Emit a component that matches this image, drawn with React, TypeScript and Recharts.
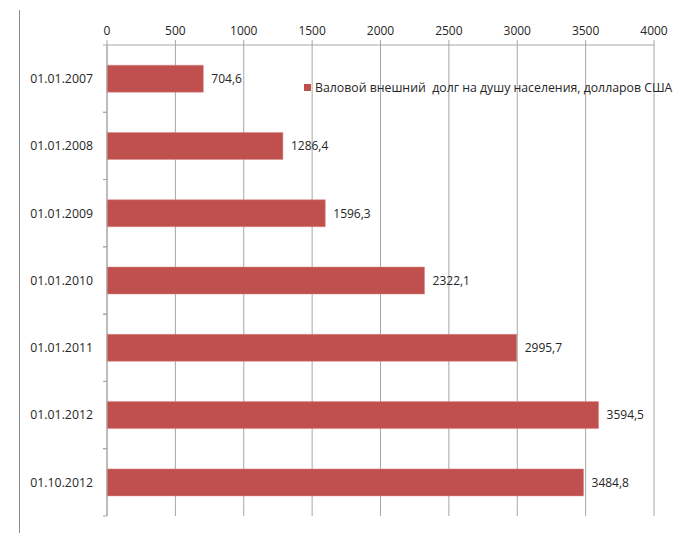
import React from "react";
import { BarChart, Bar, XAxis, YAxis, CartesianGrid, LabelList } from "recharts";

const categories = ["01.01.2007", "01.01.2008", "01.01.2009", "01.01.2010", "01.01.2011", "01.01.2012", "01.10.2012"];
const debtValues = [704.6, 1286.4, 1596.3, 2322.1, 2995.7, 3594.5, 3484.8];
const xTicks = [0, 500, 1000, 1500, 2000, 2500, 3000, 3500, 4000];
const seriesName = "Валовой внешний  долг на душу населения, долларов США";

const data = categories.map((c, i) => ({ date: c, value: debtValues[i] }));

const FONT = "'Open Sans', 'Noto Sans', sans-serif";
const BAR = "#C0504D";
const GRID = "#A6A6A6";
const TEXT = "#262626";

const W = 688;
const H = 533;
const X_H = 30;
const M = { top: 45 - X_H, right: 34, bottom: 17, left: 17 };
const Y_W = 90;
const plotH = H - 45 - M.bottom;
const band = plotH / categories.length;

const CatTick = (props: any) => {
  const { x, y, payload } = props;
  const ax = M.left + Y_W;
  return (
    <g>
      <line x1={ax - 4} x2={ax} y1={y - band / 2} y2={y - band / 2} stroke={GRID} />
      <line x1={ax - 4} x2={ax} y1={y + band / 2} y2={y + band / 2} stroke={GRID} />
      <text x={x} y={y} dy="0.35em" textAnchor="end" fontSize={12.3} fill={TEXT} fontFamily={FONT}>
        {payload.value}
      </text>
    </g>
  );
};

export default function App() {
  return (
    <div style={{ position: "absolute", left: 0, top: 0, width: W, height: H, background: "#fff" }}>
      <div style={{ position: "absolute", left: 19, top: 10, width: 0, height: H - 10, borderLeft: "1px solid #8c8c8c" }} />
      <BarChart width={W} height={H} data={data} layout="vertical" margin={M} barCategoryGap="30%">
        <CartesianGrid horizontal={false} stroke={GRID} strokeDasharray="" />
        <XAxis
          type="number"
          orientation="top"
          height={X_H}
          domain={[0, 4000]}
          ticks={xTicks}
          interval={0}
          tickSize={5}
          tickMargin={5}
          axisLine={{ stroke: GRID }}
          tickLine={{ stroke: GRID }}
          tick={{ fontSize: 12, fill: TEXT, fontFamily: FONT }}
        />
        <YAxis
          type="category"
          dataKey="date"
          width={Y_W}
          tickSize={5}
          tickMargin={9}
          tickLine={false}
          axisLine={{ stroke: GRID }}
          tick={<CatTick />}
        />
        <Bar dataKey="value" name={seriesName} fill={BAR} stroke="#D88A88" strokeWidth={0.5} isAnimationActive={false}>
          <LabelList
            dataKey="value"
            position="right"
            offset={8}
            formatter={(v: any) => String(v).replace(".", ",")}
            style={{ fontSize: 12, fill: TEXT, fontFamily: FONT }}
          />
        </Bar>
      </BarChart>
      <div
        style={{
          position: "absolute",
          left: 304,
          top: 79,
          display: "flex",
          alignItems: "center",
          fontFamily: FONT,
          fontSize: 12.3,
          color: TEXT,
          whiteSpace: "pre",
        }}
      >
        <span style={{ display: "inline-block", width: 7, height: 7, background: BAR, marginRight: 4 }} />
        <span>{seriesName}</span>
      </div>
    </div>
  );
}
